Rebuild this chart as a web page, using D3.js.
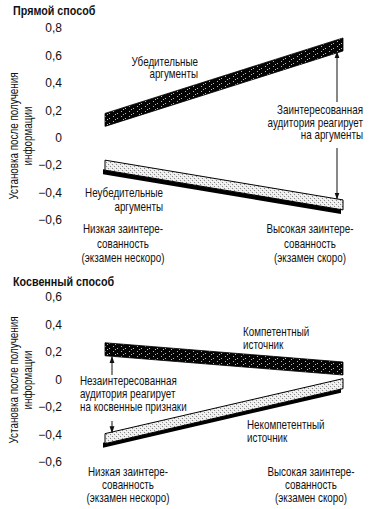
<!DOCTYPE html>
<html><head><meta charset="utf-8">
<script src="https://cdn.jsdelivr.net/npm/d3@7/dist/d3.min.js"></script>
<style>
body{margin:0;background:#fff;}
svg text{font-family:"Liberation Sans",Arial,sans-serif;fill:#111;}
</style></head>
<body><svg id="c" width="378" height="509"></svg>
<script>
// ---- data ----
const panelTitles = ["Прямой способ", "Косвенный способ"];
const levels = ["low", "high"];
const levelLabels = [["Низкая заинтере-", "сованность", "(экзамен нескоро)"],
                     ["Высокая заинтере-", "сованность", "(экзамен скоро)"]];
const directStrong = [0.13, 0.68];     // Убедительные аргументы
const directWeak = [-0.20, -0.49];     // Неубедительные аргументы
const peripheralExpert = [0.22, 0.08]; // Компетентный источник
const peripheralNonexpert = [-0.43, -0.03]; // Некомпетентный источник
const ticksDirect = [0.8, 0.6, 0.4, 0.2, 0, -0.2, -0.4, -0.6];
const ticksPeripheral = [0.6, 0.4, 0.2, 0, -0.2, -0.4, -0.6];
const yTitle = ["Установка после получения", "информации"];

const svg = d3.select("#c");
const defs = svg.append("defs");
const SX = 0.82;

// dark speckled pattern
const pd = defs.append("pattern").attr("id","dark").attr("patternUnits","userSpaceOnUse")
  .attr("width",8).attr("height",5);
pd.append("rect").attr("width",8).attr("height",5).attr("fill","#050505");
[[1,1],[5,3],[3,4]].forEach(([a,b])=>pd.append("rect").attr("x",a).attr("y",b).attr("width",1).attr("height",1).attr("fill","#bbb"));
// light stipple pattern
const pl = defs.append("pattern").attr("id","light").attr("patternUnits","userSpaceOnUse")
  .attr("width",4).attr("height",4);
pl.append("rect").attr("width",4).attr("height",4).attr("fill","#ececec");
[[0,0],[2,2]].forEach(([a,b])=>pl.append("rect").attr("x",a).attr("y",b).attr("width",1).attr("height",1).attr("fill","#888"));
[[1,3],[3,1]].forEach(([a,b])=>pl.append("rect").attr("x",a).attr("y",b).attr("width",1).attr("height",1).attr("fill","#fff"));

defs.append("marker").attr("id","ah").attr("viewBox","0 0 10 10").attr("refX",9).attr("refY",5)
  .attr("markerWidth",7).attr("markerHeight",7).attr("markerUnits","userSpaceOnUse").attr("orient","auto")
  .append("path").attr("d","M0,1.5L10,5L0,8.5Z").attr("fill","#111");

const loc = d3.formatLocale({decimal:",",thousands:" ",grouping:[3],currency:["",""],minus:"\u2212"});
const f1 = loc.format(".1f");
const fmt = d => d === 0 ? "0" : f1(d);

const x = d3.scalePoint().domain(levels).range([105, 343]);

function txt(g, px, py, s, anchor, size, extra){
  return g.append("text").attr("transform",`translate(${px},${py})${extra||""} scale(${SX},1)`)
    .attr("text-anchor",anchor).attr("dy","0.35em").attr("font-size",size).text(s);
}

function panel(cfg){
  const g = svg.append("g");
  txt(g, 13, cfg.titleY, cfg.title, "start", 12.5).attr("font-weight","bold").attr("transform",`translate(13,${cfg.titleY}) scale(0.86,1)`);
  const y = d3.scaleLinear().domain([cfg.ticks[0], cfg.ticks[cfg.ticks.length-1]]).range(cfg.yr);
  const ax = g.append("g").attr("transform","translate(62,0)")
    .call(d3.axisLeft(y).tickValues(cfg.ticks).tickFormat(fmt).tickSize(0).tickPadding(0));
  ax.select(".domain").remove();
  ax.selectAll("text").attr("font-size",12).attr("font-family",null).attr("fill","#111");
  // y title
  yTitle.forEach((t,i)=>{
    txt(g, 14+i*14, cfg.yTitleC, t, "middle", 12, " rotate(-90)");
  });
  // bands
  const mk = vals => levels.map((l,i)=>({l, v: vals[i]}));
  const hD = 13, hL = 10;
  const darkArea = d3.area().x(d=>x(d.l)).y0(d=>y(d.v)-hD/2).y1(d=>y(d.v)+hD/2);
  const lightArea = d3.area().x(d=>x(d.l)).y0(d=>y(d.v)-hL/2).y1(d=>y(d.v)+hL/2);
  const shadowArea = d3.area().x(d=>x(d.l)).y0(d=>y(d.v)+hL/2-1).y1(d=>y(d.v)+hL/2+4);
  g.append("path").datum(mk(cfg.light)).attr("d",shadowArea).attr("fill","#000")
    .attr("transform","translate(-2,0)");
  g.append("path").datum(mk(cfg.light)).attr("d",lightArea).attr("fill","url(#light)")
    .attr("stroke","#000").attr("stroke-width",1);
  g.append("path").datum(mk(cfg.dark)).attr("d",darkArea).attr("fill","url(#dark)")
    .attr("stroke","#000").attr("stroke-width",0.8);
  // category labels
  levelLabels.forEach((lines,i)=>{
    lines.forEach((t,j)=> txt(g, cfg.catX[i], cfg.catY[j], t, "middle", 12));
  });
  // annotations
  cfg.notes.forEach(n=>{
    n.lines.forEach((t,j)=> txt(g, n.x, n.y + j*n.lh, t, n.anchor, 12));
  });
  // arrows
  const ax0 = cfg.arrowX;
  const li = cfg.arrowLevel;
  g.append("line").attr("x1",ax0).attr("x2",ax0).attr("y1",cfg.arrowUpFrom)
    .attr("y2",y(cfg.dark[li])+hD/2+1).attr("stroke","#111").attr("stroke-width",1).attr("marker-end","url(#ah)");
  g.append("line").attr("x1",ax0).attr("x2",ax0).attr("y1",cfg.arrowDownFrom)
    .attr("y2",y(cfg.light[li])-hL/2-1).attr("stroke","#111").attr("stroke-width",1).attr("marker-end","url(#ah)");
}

panel({
  title: panelTitles[0], titleY: 11, ticks: ticksDirect, yr: [28, 220], yTitleC: 136,
  dark: directStrong, light: directWeak,
  catX: [123, 310], catY: [229, 244, 258],
  notes: [
    {lines:["Убедительные","аргументы"], x:198, y:62, lh:12, anchor:"end"},
    {lines:["Неубедительные","аргументы"], x:163, y:193, lh:14, anchor:"end"},
    {lines:["Заинтересованная","аудитория реагирует","на аргументы"], x:363, y:110, lh:12.5, anchor:"end"}
  ],
  arrowX: 337, arrowLevel: 1, arrowUpFrom: 102, arrowDownFrom: 148
});
panel({
  title: panelTitles[1], titleY: 282, ticks: ticksPeripheral, yr: [297, 462], yTitleC: 380,
  dark: peripheralExpert, light: peripheralNonexpert,
  catX: [128, 311], catY: [472, 485, 498],
  notes: [
    {lines:["Компетентный","источник"], x:243, y:332, lh:13, anchor:"start"},
    {lines:["Некомпетентный","источник"], x:247, y:425, lh:13, anchor:"start"},
    {lines:["Незаинтересованная","аудитория реагирует","на косвенные признаки"], x:80, y:381, lh:13, anchor:"start"}
  ],
  arrowX: 112, arrowLevel: 0, arrowUpFrom: 375, arrowDownFrom: 421
});
</script></body></html>
